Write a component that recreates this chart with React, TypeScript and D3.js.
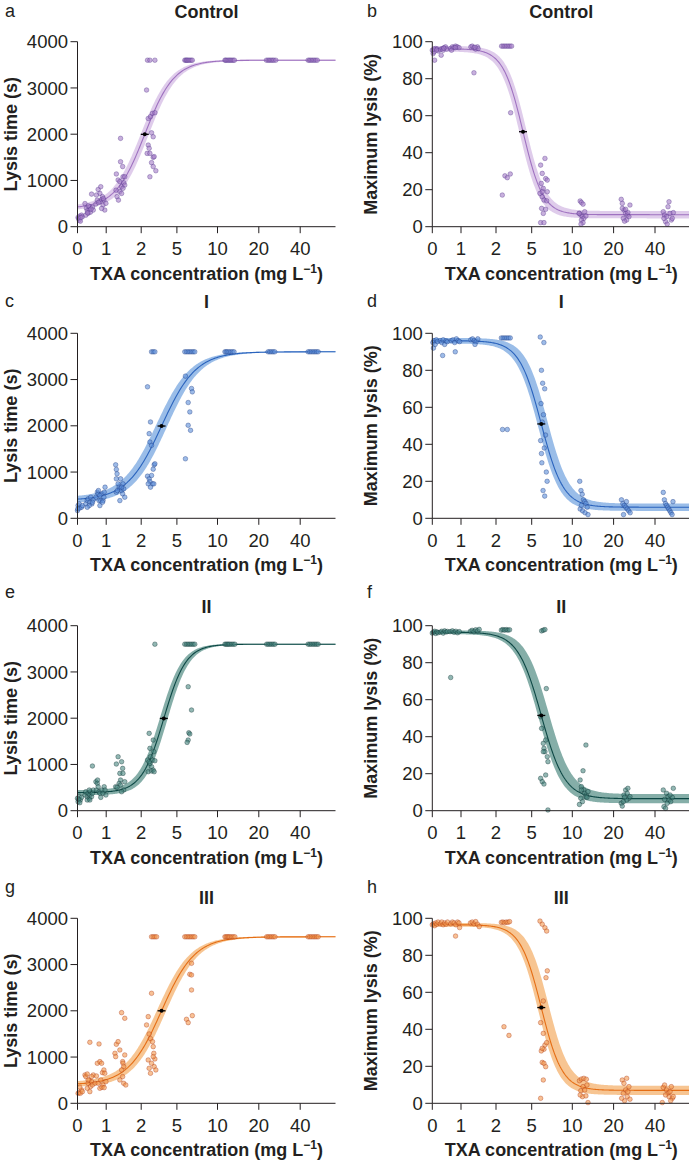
import React from 'react';
import * as d3 from 'd3';

type Pt = [number, number];

// ---------- axis / labels ----------
const xTickValues = [0, 1, 2, 5, 10, 20, 40];
const xDomainEnd = 72;
const timeTicks = [0, 1000, 2000, 3000, 4000];
const lysisTicks = [0, 20, 40, 60, 80, 100];
const groupTitles = ['Control', 'I', 'II', 'III'];
const timeLetters = ['a', 'c', 'e', 'g'];
const lysisLetters = ['b', 'd', 'f', 'h'];

// ---------- fitted curves (4-parameter logistic) ----------
const timeLeft = [395, 390, 390, 400];
const timeRight = [3600, 3600, 3600, 3600];
const timeEc50 = [2.3, 3.71, 3.9, 3.71];
const timeSlope = [0.068, 0.058, 0.09, 0.06];
const lysisLeft = [96.2, 96, 96.5, 96.5];
const lysisRight = [6.5, 6, 6.5, 7];
const lysisEc50 = [4.27, 6.18, 6.18, 6.18];
const lysisSlope = [0.1, 0.09, 0.085, 0.095];

// ---------- observations ----------
const ctrlTime: Pt[] = [
  [0.02,200],[0.06,140],[0.08,230],[0.14,250],[0.04,180],[0.1,120],[0.17,215],[0.12,200],
  [0.26,500],[0.31,400],[0.34,345],[0.37,290],[0.41,375],[0.43,430],[0.45,315],[0.49,705],[0.52,420],[0.29,250],[0.38,450],[0.55,360],[0.47,380],[0.35,300],
  [0.64,490],[0.69,575],[0.72,805],[0.78,720],[0.81,865],[0.84,590],[0.87,650],[0.89,470],[0.92,575],[0.95,360],[0.99,505],[0.78,540],[0.84,395],[0.66,685],[0.73,525],[0.9,610],
  [1.29,1140],[1.34,1010],[1.39,975],[1.41,1910],[1.41,1405],[1.44,865],[1.47,1300],[1.48,1080],[1.5,950],[1.53,900],[1.39,760],[1.31,650],[1.35,575],[1.44,720],[1.48,830],[1.53,1080],[1.28,790],
  [2.45,2955],[2.59,2340],[2.78,2380],[2.95,2450],[3.15,2465],[2.87,2030],[3.01,1945],[2.59,1765],[2.67,1695],[2.5,1585],[2.73,1585],[3.01,1500],[3.09,1515],[2.87,1385],[3.01,1300],[3.23,1210],[2.73,1080],[2.53,3600],[2.73,3600],[3.15,3600],
  [5.97,3600],[6.1,3600],[6.2,3600],[6.3,3600],[6.45,3600],[6.6,3600],[6.75,3600],[6.9,3600],
  [11.8,3600],[12.0,3600],[12.3,3600],[12.6,3600],[12.9,3600],[13.2,3600],[13.5,3600],[13.8,3600],[14.1,3600],
  [23.7,3600],[24.5,3600],[25.2,3600],[25.9,3600],[26.6,3600],[27.3,3600],[28.2,3600],
  [47.2,3600],[48.5,3600],[49.8,3600],[51.2,3600],[52.6,3600],[54,3600],[55.5,3600],
];

const ctrlLysis: Pt[] = [
  [0,95.4],[0.03,93.6],[0.08,90],[0.12,96.3],[0.06,94.5],[0.17,96],[0.21,95],[0.05,96],[0.15,95.5],
  [0.29,95.8],[0.35,96.3],[0.31,92.7],[0.41,96.7],[0.46,97.2],[0.38,95.4],[0.5,96],[0.4,96.5],
  [0.64,96.3],[0.7,97.2],[0.75,96.8],[0.81,97.6],[0.87,97.2],[0.93,96.8],[0.67,95.4],[0.8,96.8],
  [1.28,97.2],[1.32,97.6],[1.37,96.8],[1.42,96],[1.47,97.2],[1.37,83.2],[1.49,96.3],[1.4,97],
  [2.47,97.6],[2.61,97.6],[2.75,97.6],[2.89,97.6],[3.03,97.6],[3.17,97.6],[3.31,97.6],[2.75,27.5],[2.95,26.5],[3.2,28.5],[2.53,17.1],[3.23,61.6],
  [6.63,36.9],[6.1,33.3],[6.3,28.8],[6.72,26],[6.92,25.2],[6.18,23.4],[6.43,20.7],[6.02,18],[6.3,16.2],[6.51,14.4],[6.84,14],[6.22,9.9],[6.72,9.4],[6.43,7.2],[6.1,2.2],[6.51,2.2],[6.3,18.9],[6.92,18.9],
  [11.9,13.9],[12.2,13.1],[12.6,12.2],[11.73,7.2],[12.06,6.3],[12.45,5.4],[12.8,4.5],[13.0,8.1],[12.2,3.6],[12.6,2.2],[12.1,1.4],[13.3,5.8],[11.65,7.2],
  [23.7,14.8],[24.2,12.6],[25.0,9],[25.8,7.2],[26.6,6.3],[27.4,5.4],[24.7,4.5],[26.3,3.6],[25.3,3],[26.9,7.7],[27.9,11.7],[24.2,9.9],[25.8,9.4],
  [47.5,8.1],[48.7,6.3],[50.5,5.4],[51.8,10.8],[52.7,13.5],[53.6,7.2],[54.8,3.6],[55.7,4.5],[49.6,2.7],[51.1,1.4],[56.6,7.6],[48.1,4.5],
];

const oneTime: Pt[] = [
  [0,166],[0.02,275],[0.08,224],[0.14,239],[0.06,311],[0.17,275],[0.01,203],
  [0.29,311],[0.34,383],[0.37,420],[0.43,347],[0.46,456],[0.5,311],[0.55,398],[0.41,275],[0.34,239],[0.52,347],
  [0.64,456],[0.69,564],[0.72,528],[0.75,383],[0.78,275],[0.81,383],[0.85,528],[0.89,383],[0.93,564],[0.96,673],[0.87,347],[0.73,600],[0.78,492],[0.92,456],
  [1.27,1157],[1.29,1056],[1.31,962],[1.29,854],[1.34,745],[1.37,673],[1.39,637],[1.41,854],[1.44,600],[1.47,528],[1.48,745],[1.5,637],[1.53,456],[1.39,383],[1.29,564],[1.44,673],[1.32,600],
  [2.53,2843],[2.67,1830],[2.78,2083],[2.73,1649],[2.87,1577],[2.53,911],[2.67,853],[2.73,796],[2.87,926],[2.95,745],[3.01,1063],[3.09,1157],[3.15,1179],[2.59,745],[2.78,673],[3.06,745],[2.87,3600],[3.01,3600],[3.15,3600],
  [6.05,3074],[6.05,1287],[6.39,2503],[6.59,2300],[6.8,2806],[6.9,2734],[6.39,2011],[6.68,1902],[5.97,3600],[6.18,3600],[6.39,3600],[6.59,3600],[6.8,3600],[7.0,3600],[7.2,3600],
  [11.8,3600],[12.1,3600],[12.4,3600],[12.8,3600],[13.2,3600],[13.6,3600],[14.0,3600],
  [24.5,3600],[25.3,3600],[26.1,3600],[26.9,3600],[27.7,3600],
  [47.2,3600],[48.7,3600],[50.2,3600],[51.8,3600],[53.3,3600],[54.8,3600],[56.3,3600],
];

const oneLysis: Pt[] = [
  [0.02,95],[0.06,96],[0.1,94],[0.14,96.5],[0.18,95.5],[0.04,92],
  [0.28,96],[0.33,95],[0.38,96.5],[0.43,94],[0.48,96],[0.36,88],[0.52,95.5],
  [0.66,96],[0.72,96.5],[0.78,95],[0.84,97],[0.9,96],[0.8,90],[0.95,95.5],
  [1.28,96.5],[1.33,97],[1.38,96],[1.43,95.5],[1.48,97],[1.4,94],
  [2.45,97.5],[2.6,97.5],[2.75,97.5],[2.9,97.5],[3.05,97.5],[3.2,97.5],[2.55,48],[2.95,48],
  [6.05,98],[6.5,95],[6.2,80],[6.35,73],[6.6,70],[6.15,62],[6.45,56],[6.3,52],[6.7,45],[6.1,42],[6.55,38],[6.25,30],[6.8,25],[6.4,15],[6.6,12],[6.9,20],[6.2,35],
  [11.8,20],[12.1,15],[12.4,13],[12.7,10],[13.0,9],[13.3,8],[13.6,6],[11.9,5],[12.5,4],[13.1,3],[13.8,2],[12.2,7],
  [23.8,10],[24.5,8],[25.2,7],[25.9,6],[26.6,5],[27.3,4],[28.0,3],[24.8,2],[26.2,9],
  [47.5,14],[48.5,10],[49.5,8],[50.5,7],[51.5,6],[52.5,5],[53.5,4],[54.5,3],[55.5,2],[56.3,9],
];

const twoTime: Pt[] = [
  [0,267],[0.02,195],[0.06,303],[0.1,231],[0.14,288],[0.04,245],[0.08,173],
  [0.26,339],[0.29,411],[0.34,303],[0.37,375],[0.41,267],[0.43,339],[0.45,411],[0.49,303],[0.52,375],[0.55,447],[0.34,231],[0.41,447],[0.52,966],[0.43,231],
  [0.64,627],[0.66,447],[0.69,591],[0.72,519],[0.75,411],[0.78,375],[0.81,288],[0.85,447],[0.89,375],[0.93,519],[0.96,447],[0.99,339],[0.7,663],
  [1.27,519],[1.29,1009],[1.34,1167],[1.39,807],[1.41,663],[1.44,1059],[1.47,915],[1.48,807],[1.5,447],[1.53,627],[1.37,591],[1.44,411],[1.41,555],[1.31,505],
  [2.53,1095],[2.67,1672],[2.73,1348],[2.78,1167],[2.87,951],[2.95,1095],[3.01,1528],[3.06,1276],[3.15,1081],[2.59,843],[2.73,1023],[2.87,858],[3.01,879],[3.09,843],[2.67,1059],[3.15,3600],
  [6.39,2681],[6.8,2177],[6.47,1686],[6.59,1658],[6.39,1528],[6.26,1477],[5.97,3600],[6.18,3600],[6.39,3600],[6.59,3600],[6.8,3600],[7.0,3600],[7.2,3600],
  [11.8,3600],[12.1,3600],[12.4,3600],[12.7,3600],[13.0,3600],[13.4,3600],[13.8,3600],[14.2,3600],
  [23.8,3600],[24.6,3600],[25.4,3600],[26.2,3600],[27.0,3600],[27.8,3600],
  [47.2,3600],[48.7,3600],[50.2,3600],[51.8,3600],[53.3,3600],[54.8,3600],[56.3,3600],
];

const twoLysis: Pt[] = [
  [0,96],[0.04,96.5],[0.08,97],[0.12,95.8],[0.16,96.7],[0.2,96.2],
  [0.28,96.5],[0.33,97],[0.38,96],[0.43,97.2],[0.48,96.6],[0.53,96.9],
  [0.62,96.8],[0.64,72],[0.7,97.2],[0.76,96.5],[0.82,97],[0.88,96.2],[0.94,96.8],
  [1.27,97],[1.32,97.5],[1.37,96.8],[1.42,97.8],[1.47,97.2],[1.52,98],
  [2.45,97.6],[2.58,97.9],[2.72,97.6],[2.86,97.9],[3.0,97.6],[3.14,97.8],
  [6.22,97.2],[6.43,97.6],[6.63,97.9],[6.8,66],[6.22,44.5],[6.43,36.4],[6.51,33.7],[6.63,31.9],[6.72,38.2],[6.92,29.2],[7.0,26.5],[6.1,17.5],[6.3,15.7],[6.51,14.4],[6.72,19.3],[7.0,0.4],[6.43,31.9],[6.1,50.8],
  [12.6,21.6],[13.3,35.5],[11.9,16.6],[12.2,13],[12.8,11.2],[13.0,9.4],[13.4,8.5],[13.8,10.3],[12.06,6.7],[12.45,4.9],[11.73,3.4],[13.3,7.6],[13.55,7.2],[12.2,11.2],
  [23.7,4],[24.2,2.5],[25.0,8.5],[25.8,11.2],[26.6,9.4],[27.4,6.7],[26.3,5.8],[25.3,7.2],[24.7,4.9],[26.9,12.1],[27.9,7.6],
  [48.1,2.2],[49.6,1.3],[47.5,11.2],[50.5,9.4],[51.8,7.6],[52.7,5.8],[54.2,4.9],[55.7,7.2],[56.6,12.1],[48.7,6.1],[53.6,8.5],[51.1,4],
];

const threeTime: Pt[] = [
  [0.02,216],[0.06,231],[0.1,216],[0.14,288],[0.08,346],[0.17,252],
  [0.26,613],[0.29,577],[0.34,634],[0.37,432],[0.41,504],[0.43,1319],[0.45,360],[0.49,468],[0.52,396],[0.55,613],[0.34,324],[0.43,252],[0.49,577],[0.37,504],
  [0.61,432],[0.66,591],[0.69,865],[0.72,432],[0.75,1283],[0.78,901],[0.81,504],[0.84,865],[0.87,663],[0.89,396],[0.92,721],[0.95,649],[0.99,468],[0.78,324],[0.85,346],[0.93,339],
  [1.25,1081],[1.27,1009],[1.29,1276],[1.34,1333],[1.39,1153],[1.44,1960],[1.47,901],[1.48,865],[1.5,793],[1.53,1838],[1.53,1045],[1.44,721],[1.47,577],[1.5,432],[1.56,396],[1.39,504],
  [2.45,1694],[2.59,1874],[2.67,1499],[2.78,1398],[2.87,2378],[2.95,1333],[3.01,1225],[3.06,1081],[3.15,959],[2.59,937],[2.67,757],[2.78,649],[2.87,865],[3.09,793],[3.23,721],[3.01,1009],[2.87,3600],[3.01,3600],[3.15,3600],[3.29,3600],
  [6.8,3027],[6.59,2789],[6.8,2775],[6.8,2450],[6.9,1895],[6.18,1816],[6.39,1744],[5.97,3600],[6.18,3600],[6.39,3600],[6.59,3600],[6.8,3600],[7.0,3600],[7.2,3600],
  [11.8,3600],[12.1,3600],[12.4,3600],[12.7,3600],[13.0,3600],[13.4,3600],[13.8,3600],[14.2,3600],
  [23.8,3600],[24.6,3600],[25.4,3600],[26.2,3600],[27.0,3600],[27.8,3600],
  [47.2,3600],[48.7,3600],[50.2,3600],[51.8,3600],[53.3,3600],[54.8,3600],[56.3,3600],
];

const threeLysis: Pt[] = [
  [0,96.5],[0.04,97],[0.08,96],[0.12,97.5],[0.16,96.8],[0.2,98],
  [0.28,97],[0.33,98],[0.38,96.5],[0.43,97.5],[0.48,96.8],[0.53,98],
  [0.64,97],[0.7,98],[0.76,97.5],[0.81,90.4],[0.82,96.5],[0.88,98],[0.93,97.5],[0.95,95],
  [1.27,97.5],[1.32,98],[1.37,97],[1.42,98.2],[1.47,96.8],[1.52,95.5],
  [2.45,97.8],[2.58,98],[2.72,97.6],[2.86,98],[3.0,97.8],[3.14,98.2],[2.67,41.4],[3.09,36.7],
  [6.02,98.5],[6.3,96.8],[6.63,94.9],[6.84,93.1],[6.92,71.6],[6.76,67.9],[6.43,55.3],[6.18,51.8],[6.1,43.6],[6.43,37.8],[6.63,31.5],[6.84,32.8],[6.51,29.2],[6.18,28.3],[6.3,22.1],[6.51,21.6],[6.72,19.8],[6.43,12.6],[6.1,2.7],[6.3,29.7],
  [11.73,12.2],[12.2,13.1],[12.8,13.5],[13.4,13],[12.06,6.8],[12.6,9],[13.0,7.2],[13.55,9.9],[12.45,3.6],[13.3,4],[13.8,0.4],[11.9,4.5],
  [24.2,12.6],[26.3,13.5],[25.0,10.8],[25.8,7.2],[24.7,5.4],[26.6,3.6],[25.3,1.4],[27.4,9],[26.9,6.3],[27.9,2.2],[23.9,2.7],
  [47.5,8.6],[48.7,9.9],[50.5,7.2],[51.8,5.4],[52.7,3.6],[53.6,6.3],[54.8,9],[55.7,2.7],[56.6,3.6],[46.6,0.4],[49.6,4.5],[54.2,1.4],
];

const timeData = [ctrlTime, oneTime, twoTime, threeTime];
const lysisData = [ctrlLysis, oneLysis, twoLysis, threeLysis];

// ---------- styling / layout ----------
const PALETTES = [
  { line: '#9f72c0', band: '#dcc6e9', fill: '#a47cc6', stroke: '#4f2f86' },
  { line: '#2a63bd', band: '#8fb6e6', fill: '#5b8ed8', stroke: '#17347f' },
  { line: '#0d4845', band: '#78a59f', fill: '#4a8781', stroke: '#062b29' },
  { line: '#e56e15', band: '#f6bf86', fill: '#f3984e', stroke: '#a8300a' },
];
const TIME_BAND = [[3.5, 3.5, 45, 15], [5, 5, 65, 10], [3.5, 3.5, 55, 12], [4, 4, 55, 12]];
const LYSIS_BAND = [[3, 3, 1.5, 2], [3, 6, 1.5, 2], [2.5, 7, 1, 2.5], [3, 7, 1, 2.5]];

const X_STOPS = [0, 28.7, 63.7, 99.4, 140, 181.3, 222.7, 258];
const COLS = [77.5, 432.3];
const ROWS = [41.7, 333.3, 625.7, 918.3];
const PLOT_H = 185;
const TITLE_Y = [18.3, 308.3, 613.3, 903.5];
const LETTER_Y = [16.7, 306.7, 597.5, 893];
const LETTER_X = [5, 367];
const YLABEL_X = [16.5, 377];
const INK = '#231f20';
const FONT = '"Liberation Sans", Arial, Helvetica, sans-serif';

interface PanelProps {
  col: number;
  row: number;
  letter: string;
  title: string;
  yLabel: string;
  yMax: number;
  yTicks: number[];
  points: Pt[];
  left: number;
  right: number;
  ec50: number;
  slope: number;
  band: number[];
  pal: { line: string; band: string; fill: string; stroke: string };
}

function Panel(p: PanelProps) {
  const x0 = COLS[p.col];
  const y0 = ROWS[p.row];
  const x = d3
    .scaleLinear()
    .domain([...xTickValues, xDomainEnd])
    .range(X_STOPS.map((v) => x0 + v));
  const y = d3.scaleLinear().domain([0, p.yMax]).range([y0 + PLOT_H, y0]);

  const uMid = x(p.ec50);
  const model = (c: number, shift = 0) => {
    const f = 1 / (1 + Math.exp(-p.slope * (x(c) - uMid - shift)));
    return { v: p.left + (p.right - p.left) * f, f };
  };
  const [sL, sR, padL, padR] = p.band;
  const samples = d3.range(0, X_STOPS[X_STOPS.length - 1] + 0.5, 1).map((d) => x.invert(x0 + d));
  const rows = samples.map((c) => {
    const m = model(c);
    const a = model(c, -sL).v;
    const b = model(c, sR).v;
    const pad = padL * (1 - m.f) + padR * m.f;
    return { c, v: m.v, lo: Math.min(a, b) - pad, hi: Math.max(a, b) + pad };
  });
  const area = d3
    .area<typeof rows[number]>()
    .x((d) => x(d.c))
    .y0((d) => y(d.lo))
    .y1((d) => y(d.hi));
  const line = d3
    .line<typeof rows[number]>()
    .x((d) => x(d.c))
    .y((d) => y(d.v));

  const midY = y((p.left + p.right) / 2);
  const midX = x(p.ec50);
  const xEnd = x0 + X_STOPS[X_STOPS.length - 1];
  const cx = (x0 + xEnd) / 2;

  return (
    <g fontFamily={FONT} fill={INK}>
      <text x={LETTER_X[p.col]} y={LETTER_Y[p.row]} fontSize={18}>
        {p.letter}
      </text>
      <text x={cx} y={TITLE_Y[p.row]} fontSize={18} fontWeight="bold" textAnchor="middle">
        {p.title}
      </text>
      <path d={area(rows) || ''} fill={p.pal.band} stroke="none" opacity={0.9} />
      <path d={line(rows) || ''} fill="none" stroke={p.pal.line} strokeWidth={1.1} />
      {p.points.map((d, i) => (
        <circle
          key={i}
          cx={x(d[0])}
          cy={y(d[1])}
          r={2.3}
          fill={p.pal.fill}
          fillOpacity={0.6}
          stroke={p.pal.stroke}
          strokeOpacity={0.6}
          strokeWidth={0.6}
        />
      ))}
      <line x1={midX - 4} x2={midX + 4} y1={midY} y2={midY} stroke="#000" strokeWidth={1.3} />
      <circle cx={midX} cy={midY} r={2} fill="#000" />
      {/* axes */}
      <line x1={x0} x2={x0} y1={y0} y2={y0 + PLOT_H} stroke={INK} strokeWidth={1} />
      <line x1={x0} x2={xEnd} y1={y0 + PLOT_H} y2={y0 + PLOT_H} stroke={INK} strokeWidth={1} />
      {p.yTicks.map((t) => (
        <g key={'y' + t}>
          <line x1={x0 - 7} x2={x0} y1={y(t)} y2={y(t)} stroke={INK} strokeWidth={1} />
          <text x={x0 - 9.5} y={y(t)} dy="0.36em" fontSize={18.5} textAnchor="end">
            {t}
          </text>
        </g>
      ))}
      {xTickValues.map((t) => (
        <g key={'x' + t}>
          <line x1={x(t)} x2={x(t)} y1={y0 + PLOT_H} y2={y0 + PLOT_H + 6.5} stroke={INK} strokeWidth={1} />
          <text x={x(t)} y={y0 + PLOT_H + 28.3} fontSize={18.5} textAnchor="middle">
            {t}
          </text>
        </g>
      ))}
      <text x={cx} y={y0 + PLOT_H + 53} fontSize={18} fontWeight="bold" textAnchor="middle">
        TXA concentration (mg L
        <tspan fontSize={12} dy={-7}>
          −1
        </tspan>
        <tspan dy={7}>)</tspan>
      </text>
      <text
        transform={`translate(${YLABEL_X[p.col]},${y0 + PLOT_H / 2}) rotate(-90)`}
        fontSize={18}
        fontWeight="bold"
        textAnchor="middle"
      >
        {p.yLabel}
      </text>
    </g>
  );
}

export default function App() {
  return (
    <svg
      width={689}
      height={1165}
      viewBox="0 0 689 1165"
      style={{ position: 'absolute', left: 0, top: 0, background: '#fff' }}
    >
      <rect x={0} y={0} width={689} height={1165} fill="#fff" />
      {groupTitles.map((title, i) => (
        <g key={title}>
          <Panel
            col={0}
            row={i}
            letter={timeLetters[i]}
            title={title}
            yLabel="Lysis time (s)"
            yMax={4000}
            yTicks={timeTicks}
            points={timeData[i]}
            left={timeLeft[i]}
            right={timeRight[i]}
            ec50={timeEc50[i]}
            slope={timeSlope[i]}
            band={TIME_BAND[i]}
            pal={PALETTES[i]}
          />
          <Panel
            col={1}
            row={i}
            letter={lysisLetters[i]}
            title={title}
            yLabel="Maximum lysis (%)"
            yMax={100}
            yTicks={lysisTicks}
            points={lysisData[i]}
            left={lysisLeft[i]}
            right={lysisRight[i]}
            ec50={lysisEc50[i]}
            slope={lysisSlope[i]}
            band={LYSIS_BAND[i]}
            pal={PALETTES[i]}
          />
        </g>
      ))}
    </svg>
  );
}
